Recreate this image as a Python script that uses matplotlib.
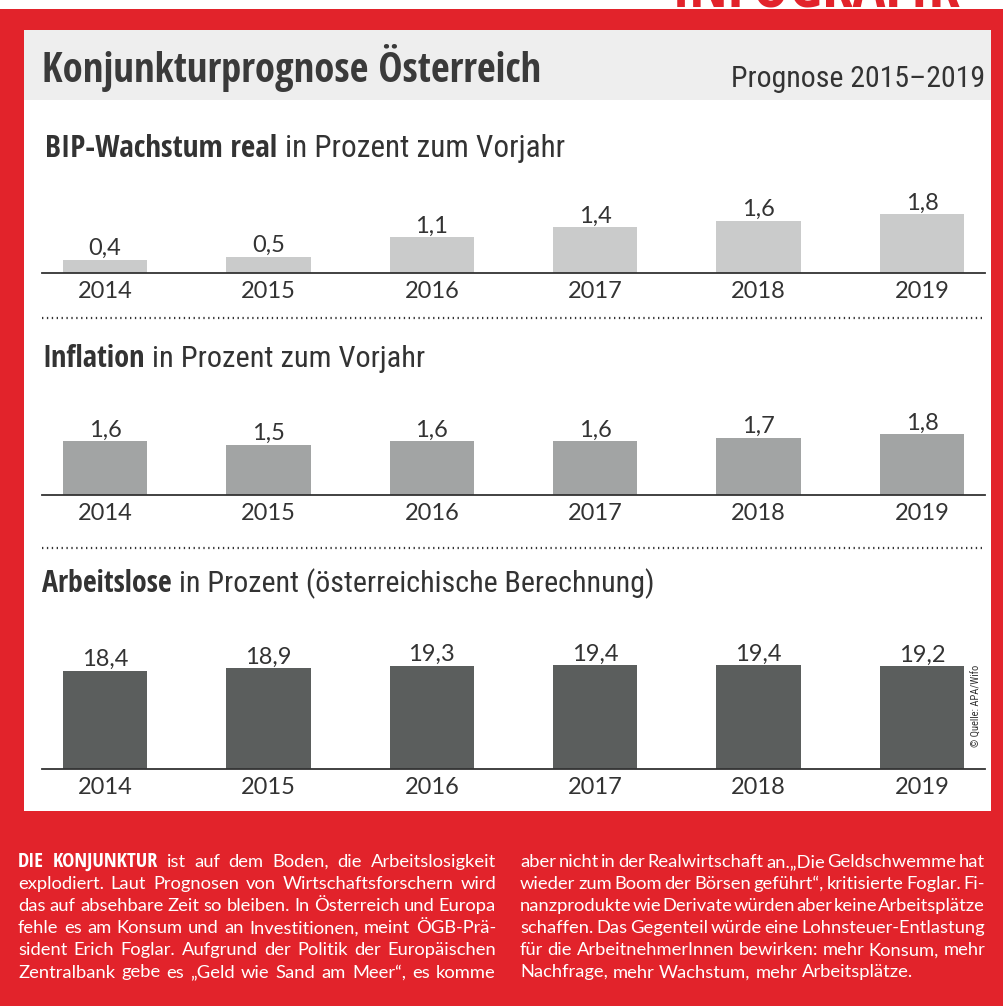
import numpy as np
import matplotlib
matplotlib.use("Agg")
import matplotlib.pyplot as plt
import matplotlib.font_manager as fm
from matplotlib.patches import Rectangle

# data
years = ["2014", "2015", "2016", "2017", "2018", "2019"]
bip = [0.4, 0.5, 1.1, 1.4, 1.6, 1.8]
inflation = [1.6, 1.5, 1.6, 1.6, 1.7, 1.8]
arbeitslose = [18.4, 18.9, 19.3, 19.4, 19.4, 19.2]

title = "Konjunkturprognose Österreich"
subtitle = "Prognose 2015–2019"
headers = [("BIP-Wachstum real", "in Prozent zum Vorjahr"),
           ("Inflation", "in Prozent zum Vorjahr"),
           ("Arbeitslose", "in Prozent (österreichische Berechnung)")]
source = "© Quelle: APA/Wifo"

left_lines = [
    "DIE KONJUNKTUR ist auf dem Boden, die Arbeitslosigkeit",
    "explodiert. Laut Prognosen von Wirtschaftsforschern wird",
    "das auf absehbare Zeit so bleiben. In Österreich und Europa",
    "fehle es am Konsum und an Investitionen, meint ÖGB-Prä-",
    "sident Erich Foglar. Aufgrund der Politik der Europäischen",
    "Zentralbank gebe es „Geld wie Sand am Meer“, es komme",
]
right_lines = [
    "aber nicht in der Realwirtschaft an.„Die Geldschwemme hat",
    "wieder zum Boom der Börsen geführt“, kritisierte Foglar. Fi-",
    "nanzprodukte wie Derivate würden aber keine Arbeitsplätze",
    "schaffen. Das Gegenteil würde eine Lohnsteuer-Entlastung",
    "für die ArbeitnehmerInnen bewirken: mehr Konsum, mehr",
    "Nachfrage, mehr Wachstum, mehr Arbeitsplätze.",
]

RED = "#e2232b"
TXT = "#333333"


# look for a condensed face (the original uses a condensed grotesk)
def find_narrow(bold):
    fams = ["Noto Sans", "Open Sans", "Liberation Sans Narrow", "Roboto", "DejaVu Sans"]
    best, best_score = None, None
    for f in fm.fontManager.ttflist:
        name = f.name
        fname = f.fname.lower()
        narrow = (f.stretch in ("condensed", "semi-condensed", "extra-condensed")
                  or "condensed" in name.lower() or "narrow" in name.lower()
                  or "condensed" in fname or "narrow" in fname)
        if not narrow or f.style != "normal":
            continue
        w = f.weight if isinstance(f.weight, int) else fm.weight_dict.get(f.weight, 400)
        if bold and w != 700:
            continue
        if not bold and w != 400:
            continue
        fam = next((i for i, fm_ in enumerate(fams) if name.startswith(fm_)), len(fams))
        semi = "semi" in fname or "extra" in fname or "ultra" in fname
        score = (fam, semi)
        if best_score is None or score < best_score:
            best, best_score = f.fname, score
    return best


nb = find_narrow(True)
nr = find_narrow(False)
BODY = "Lato" if "Lato" in {f.name for f in fm.fontManager.ttflist} else "DejaVu Sans"
plt.rcParams["font.family"] = [BODY, "DejaVu Sans"]


def narrow(bold=False):
    path = nb if bold else nr
    if path:
        return fm.FontProperties(fname=path)
    return fm.FontProperties(family="Roboto", weight="bold" if bold else "normal")


W, H = 1004, 1006
fig = plt.figure(figsize=(W / 100, H / 100), dpi=100)
fig.patch.set_facecolor(RED)
r = fig.canvas.get_renderer()


def fx(x):
    return x / W


def fy(y):
    return 1 - y / H


def rect(x0, y0, x1, y1, color):
    fig.add_artist(Rectangle((fx(x0), fy(y1)), (x1 - x0) / W, (y1 - y0) / H,
                             transform=fig.transFigure, color=color, zorder=-1, lw=0))


def width(t):
    return t.get_window_extent(r).width


# frame
rect(0, 0, W, 9, "white")
fig.text(fx(672), fy(7), "INFOGRAFIK", color=RED, fontsize=44,
         fontproperties=narrow(True), va="baseline")
rect(24, 30, 991, 811, "white")
rect(24, 30, 991, 100, "#eeeeee")


def fit_text(x, y, s, target, size, fp, **kw):
    fp.set_size(size)
    t = fig.text(fx(x), fy(y), s, fontproperties=fp, va="baseline", **kw)
    t.set_fontsize(size * target / width(t))
    return t


fit_text(42, 82, title, 499, 28, narrow(True), color="#3a3a3a")
fit_text(985, 87, subtitle, 254, 20, narrow(False), color=TXT, ha="right")


def header(x, y, bold, regular, target, size=22):
    f1, f2 = narrow(True), narrow(False)
    f1.set_size(size)
    f2.set_size(size)
    t1 = fig.text(fx(x), fy(y), bold, fontproperties=f1, color=TXT, va="baseline")
    t2 = fig.text(0, fy(y), regular, fontproperties=f2, color=TXT, va="baseline")
    gap = 0.25 * size * 100 / 72
    total = width(t1) + gap + width(t2)
    s = size * target / total
    t1.set_fontsize(s)
    t2.set_fontsize(s)
    t2.set_x(fx(x + width(t1) + 0.25 * s * 100 / 72))


header(45, 157, *headers[0], 520)
header(42, 367, *headers[1], 383)
header(42, 592, *headers[2], 613)

# dotted separators
for y in (318, 548):
    fig.add_artist(plt.Line2D([fx(42), fx(985)], [fy(y), fy(y)], transform=fig.transFigure,
                              color=TXT, lw=1.6, linestyle=(0, (0.6, 1.6))))


def fmt(v):
    return f"{v:.1f}".replace(".", ",")


def bar_panel(vals, color, top, base, ymax):
    ax = fig.add_axes([fx(42), fy(base), (985 - 42) / W, (base - top) / H])
    x = np.arange(len(years))
    bars = ax.bar(x, vals, width=0.515, color=color)
    ax.set_xlim(-0.386, 5.386)
    ax.set_ylim(0, ymax)
    ax.bar_label(bars, labels=[fmt(v) for v in vals], padding=0.5, fontsize=17, color=TXT)
    ax.set_xticks(x, years)
    ax.tick_params(axis="x", length=0, pad=5.5, labelsize=17, labelcolor=TXT)
    ax.set_yticks([])
    for s in ("top", "left", "right"):
        ax.spines[s].set_visible(False)
    ax.spines["bottom"].set_color(TXT)
    ax.spines["bottom"].set_linewidth(1.3)
    ax.patch.set_alpha(0)
    return ax


bar_panel(bip, "#cacbcb", 172, 273, 3.1)
bar_panel(inflation, "#a2a4a4", 394, 495, 3.0)
bar_panel(arbeitslose, "#5b5e5d", 628, 769, 26.4)

fp = narrow(False)
fp.set_size(7.6)
fig.text(fx(977), fy(706), source, rotation=90, fontproperties=fp, color=TXT,
         ha="center", va="center")


# body text, justified
def set_column(lines, x0, x1, y0, step, size, last_justified, bold_words=0):
    rows = []
    for i, line in enumerate(lines):
        ts = []
        for j, w in enumerate(line.split(" ")):
            if i == 0 and j < bold_words:
                f = narrow(True)
                f.set_size(size + 1.5)
                ts.append(fig.text(0, 0, w, fontproperties=f, color="white", va="baseline"))
            else:
                ts.append(fig.text(0, 0, w, fontsize=size, color="white", va="baseline"))
        rows.append(ts)
    for i, ts in enumerate(rows):
        ws = [width(t) for t in ts]
        y = y0 + i * step
        last = (i == len(rows) - 1) and not last_justified
        gap = 0.26 * size * 100 / 72 if last else (x1 - x0 - sum(ws)) / (len(ts) - 1)
        x = x0
        for t, w in zip(ts, ws):
            t.set_position((fx(x), fy(y)))
            x += w + gap


set_column(left_lines, 18, 496, 867, 22.1, 13.2, True, bold_words=2)
set_column(right_lines, 520, 985, 867, 22.1, 13.2, False)

fig.savefig("out.png", dpi=100, facecolor=fig.get_facecolor())
